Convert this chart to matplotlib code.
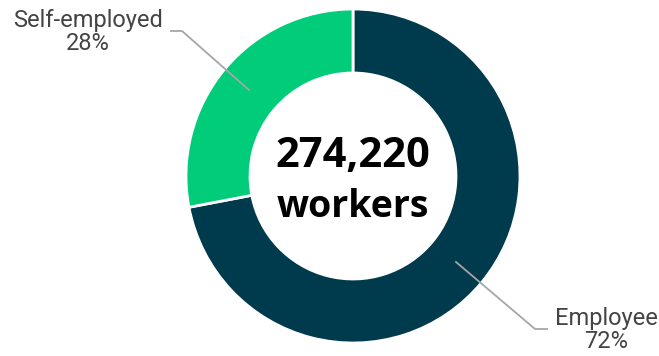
import matplotlib.pyplot as plt

labels = ["Employee", "Self-employed"]
shares = [72, 28]
total_workers = 274220
colors = ["#003a4d", "#00cc7a"]

fig = plt.figure(figsize=(6.59, 3.56), dpi=100)
ax = fig.add_axes([0, 0, 1, 1])

cx, cy = 353, 180
wedges, _ = ax.pie(shares, colors=colors, startangle=90, counterclock=False,
                   center=(cx, cy), radius=167, frame=True,
                   wedgeprops=dict(width=64, edgecolor="white", linewidth=2))
ax.set_xlim(0, 659)
ax.set_ylim(0, 356)
ax.set_aspect("equal")
ax.axis("off")

# centre text
ax.text(cx, cy + 20, f"{total_workers:,}", ha="center", va="center",
        fontsize=30, fontweight="bold", family="Open Sans", color="black")
ax.text(cx, cy - 31, "workers", ha="center", va="center",
        fontsize=27, fontweight="bold", family="Open Sans", color="black")

# leader lines and labels
line_kw = dict(color="#a6a6a6", linewidth=1.3)
ax.plot([171, 182, 249], [356 - 31, 356 - 31, 356 - 90], **line_kw)
ax.plot([456, 535, 547], [356 - 262, 356 - 329, 356 - 329], **line_kw)

ax.text(88, 356 - 32, f"{labels[1]}\n{shares[1]}%", ha="center", va="center",
        fontsize=17, family="Roboto", color="#444444", linespacing=1.05)
ax.text(606, 356 - 330, f"{labels[0]}\n{shares[0]}%", ha="center", va="center",
        fontsize=17, family="Roboto", color="#444444", linespacing=1.05)

fig.savefig("out.png", dpi=100)
